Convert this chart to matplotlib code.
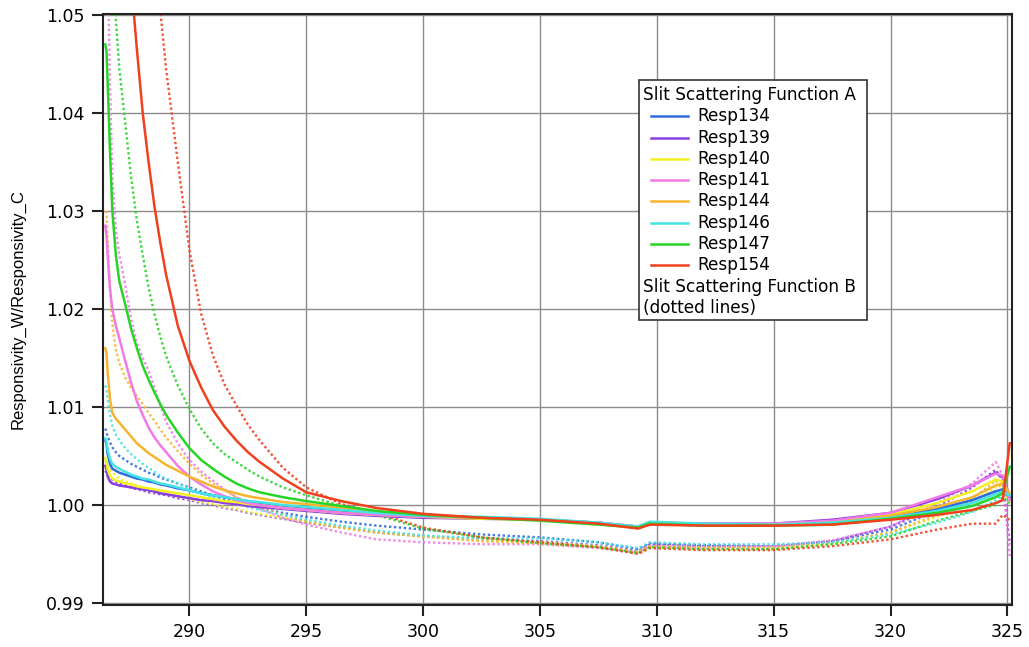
#! /usr/bin/python3

import matplotlib
matplotlib.use('Agg')
import matplotlib.pyplot as plt
from matplotlib.lines import Line2D
from matplotlib.patches import Rectangle

# wavelength grid (nm) shared by every response ratio curve, denser at the short end
wavelength = [286.4, 286.45, 286.5, 286.6, 286.7, 286.85, 287.0, 287.25, 287.5, 287.75,
              288.0, 288.25, 288.5, 288.75, 289.0, 289.5, 290.0, 290.5, 291.0, 291.5,
              292.0, 292.5, 293.0, 294.0, 295.0,
              296.5, 298.0, 300.0, 302.5, 305.0, 307.5, 309.2, 309.7, 312.0, 315.0,
              317.5, 320.0, 322.0, 323.5, 324.5, 324.8, 325.1]

names = ['Resp134', 'Resp139', 'Resp140', 'Resp141', 'Resp144', 'Resp146', 'Resp147', 'Resp154']
colors = ['#2f6be0', '#8a3fe0', '#f2f020', '#f27ae6', '#f5b52e', '#45e3e3', '#28d428', '#f0401e']

# slit scattering function A (solid)
resp134_a = [1.0066, 1.0062, 1.0052, 1.0042, 1.0037, 1.0035, 1.0033, 1.0031, 1.0029, 1.0027,
             1.0026, 1.0024, 1.0023, 1.0021, 1.0020, 1.0017, 1.0015, 1.0012, 1.0010, 1.0008,
             1.0006, 1.0004, 1.0002, 0.9999, 0.9997,
             0.9994, 0.9991, 0.9988, 0.9987, 0.9985, 0.9982, 0.9977, 0.9982, 0.9980, 0.9980,
             0.9982, 0.9988, 0.9996, 1.0005, 1.0014, 1.0016, 1.0008]
resp139_a = [1.0040, 1.0036, 1.0029, 1.0024, 1.0022, 1.0021, 1.0020, 1.0019, 1.0018, 1.0017,
             1.0016, 1.0015, 1.0014, 1.0012, 1.0011, 1.0009, 1.0007, 1.0005, 1.0004, 1.0002,
             1.0001, 0.9999, 0.9998, 0.9996, 0.9994,
             0.9991, 0.9989, 0.9987, 0.9986, 0.9985, 0.9982, 0.9978, 0.9982, 0.9981, 0.9981,
             0.9985, 0.9992, 1.0006, 1.0020, 1.0033, 1.0028, 1.0010]
resp140_a = [1.0048, 1.0044, 1.0036, 1.0030, 1.0027, 1.0025, 1.0024, 1.0022, 1.0021, 1.0019,
             1.0018, 1.0017, 1.0016, 1.0015, 1.0014, 1.0012, 1.0010, 1.0008, 1.0006, 1.0004,
             1.0003, 1.0001, 1.0000, 0.9997, 0.9995,
             0.9992, 0.9990, 0.9988, 0.9986, 0.9985, 0.9982, 0.9977, 0.9982, 0.9980, 0.9980,
             0.9983, 0.9990, 1.0002, 1.0014, 1.0026, 1.0024, 1.0010]
resp141_a = [1.0285, 1.0275, 1.0255, 1.0220, 1.0200, 1.0183, 1.0170, 1.0147, 1.0125, 1.0106,
             1.0092, 1.0079, 1.0069, 1.0061, 1.0054, 1.0040, 1.0029, 1.0021, 1.0014, 1.0009,
             1.0005, 1.0002, 1.0000, 0.9997, 0.9995,
             0.9992, 0.9990, 0.9988, 0.9987, 0.9985, 0.9982, 0.9978, 0.9982, 0.9981, 0.9981,
             0.9984, 0.9992, 1.0008, 1.0020, 1.0032, 1.0030, 1.0005]
resp144_a = [1.0160, 1.0155, 1.0135, 1.0108, 1.0094, 1.0088, 1.0084, 1.0077, 1.0070, 1.0063,
             1.0058, 1.0053, 1.0049, 1.0045, 1.0041, 1.0035, 1.0029, 1.0024, 1.0019, 1.0015,
             1.0012, 1.0009, 1.0007, 1.0003, 1.0001,
             0.9997, 0.9993, 0.9989, 0.9987, 0.9985, 0.9981, 0.9977, 0.9981, 0.9980, 0.9980,
             0.9982, 0.9989, 0.9998, 1.0008, 1.0020, 1.0022, 1.0012]
resp146_a = [1.0068, 1.0064, 1.0056, 1.0047, 1.0042, 1.0039, 1.0037, 1.0034, 1.0031, 1.0029,
             1.0027, 1.0026, 1.0024, 1.0022, 1.0021, 1.0018, 1.0015, 1.0012, 1.0010, 1.0008,
             1.0006, 1.0004, 1.0003, 1.0000, 0.9998,
             0.9995, 0.9992, 0.9989, 0.9988, 0.9986, 0.9982, 0.9978, 0.9983, 0.9981, 0.9980,
             0.9982, 0.9987, 0.9994, 1.0002, 1.0011, 1.0014, 1.0010]
resp147_a = [1.0470, 1.0463, 1.0430, 1.0360, 1.0300, 1.0255, 1.0228, 1.0205, 1.0180, 1.0160,
             1.0142, 1.0128, 1.0115, 1.0103, 1.0092, 1.0074, 1.0058, 1.0046, 1.0037, 1.0029,
             1.0022, 1.0017, 1.0013, 1.0008, 1.0004,
             0.9999, 0.9994, 0.9990, 0.9987, 0.9984, 0.9980, 0.9977, 0.9981, 0.9979, 0.9979,
             0.9980, 0.9986, 0.9992, 0.9999, 1.0008, 1.0012, 1.0039]
resp154_a = [1.1200, 1.1150, 1.1100, 1.1010, 1.0920, 1.0810, 1.0710, 1.0600, 1.0535, 1.0465,
             1.0400, 1.0350, 1.0305, 1.0268, 1.0235, 1.0183, 1.0147, 1.0120, 1.0097, 1.0080,
             1.0066, 1.0054, 1.0044, 1.0027, 1.0013,
             1.0004, 0.9997, 0.9991, 0.9987, 0.9985, 0.9981, 0.9976, 0.9980, 0.9979, 0.9979,
             0.9980, 0.9985, 0.9990, 0.9995, 1.0002, 1.0005, 1.0063]

# slit scattering function B (dotted)
resp134_b = [1.0078, 1.0074, 1.0070, 1.0064, 1.0059, 1.0054, 1.0050, 1.0046, 1.0042, 1.0039,
             1.0036, 1.0033, 1.0031, 1.0028, 1.0026, 1.0022, 1.0018, 1.0014, 1.0010, 1.0006,
             1.0003, 1.0000, 0.9997, 0.9992, 0.9988,
             0.9983, 0.9979, 0.9975, 0.9970, 0.9967, 0.9962, 0.9955, 0.9961, 0.9959, 0.9958,
             0.9963, 0.9975, 0.9994, 1.0005, 1.0014, 1.0013, 1.0008]
resp139_b = [1.0035, 1.0033, 1.0031, 1.0028, 1.0026, 1.0024, 1.0022, 1.0020, 1.0018, 1.0016,
             1.0015, 1.0013, 1.0012, 1.0011, 1.0010, 1.0007, 1.0005, 1.0002, 1.0000, 0.9997,
             0.9995, 0.9992, 0.9990, 0.9986, 0.9982,
             0.9977, 0.9972, 0.9968, 0.9965, 0.9963, 0.9959, 0.9953, 0.9960, 0.9958, 0.9958,
             0.9963, 0.9978, 0.9998, 1.0018, 1.0036, 1.0025, 0.9960]
resp140_b = [1.0045, 1.0043, 1.0040, 1.0036, 1.0033, 1.0030, 1.0027, 1.0024, 1.0022, 1.0020,
             1.0018, 1.0016, 1.0015, 1.0013, 1.0012, 1.0009, 1.0006, 1.0003, 1.0001, 0.9998,
             0.9996, 0.9993, 0.9991, 0.9987, 0.9983,
             0.9977, 0.9972, 0.9968, 0.9964, 0.9962, 0.9958, 0.9952, 0.9958, 0.9957, 0.9957,
             0.9961, 0.9972, 0.9988, 1.0003, 1.0018, 1.0020, 1.0000]
resp141_b = [1.0700, 1.0620, 1.0550, 1.0430, 1.0335, 1.0280, 1.0255, 1.0225, 1.0190, 1.0165,
             1.0150, 1.0137, 1.0120, 1.0102, 1.0085, 1.0063, 1.0046, 1.0034, 1.0025, 1.0016,
             1.0008, 1.0002, 0.9996, 0.9987, 0.9980,
             0.9972, 0.9965, 0.9962, 0.9960, 0.9960, 0.9956, 0.9952, 0.9958, 0.9957, 0.9958,
             0.9964, 0.9978, 1.0002, 1.0022, 1.0044, 1.0030, 0.9948]
resp144_b = [1.0300, 1.0298, 1.0270, 1.0220, 1.0185, 1.0158, 1.0145, 1.0130, 1.0120, 1.0111,
             1.0103, 1.0094, 1.0086, 1.0077, 1.0069, 1.0055, 1.0042, 1.0031, 1.0022, 1.0015,
             1.0008, 1.0003, 0.9998, 0.9990, 0.9983,
             0.9977, 0.9972, 0.9968, 0.9963, 0.9961, 0.9957, 0.9952, 0.9958, 0.9956, 0.9956,
             0.9961, 0.9972, 0.9990, 1.0006, 1.0025, 1.0015, 1.0005]
resp146_b = [1.0122, 1.0117, 1.0108, 1.0092, 1.0081, 1.0072, 1.0066, 1.0058, 1.0052, 1.0047,
             1.0042, 1.0038, 1.0034, 1.0030, 1.0027, 1.0022, 1.0017, 1.0012, 1.0008, 1.0004,
             1.0001, 0.9998, 0.9995, 0.9990, 0.9985,
             0.9979, 0.9974, 0.9969, 0.9966, 0.9966, 0.9962, 0.9956, 0.9962, 0.9960, 0.9960,
             0.9962, 0.9970, 0.9982, 0.9993, 1.0005, 1.0010, 1.0008]
resp147_b = [1.0850, 1.0800, 1.0750, 1.0660, 1.0580, 1.0495, 1.0445, 1.0390, 1.0335, 1.0290,
             1.0255, 1.0222, 1.0195, 1.0172, 1.0152, 1.0122, 1.0098, 1.0078, 1.0063, 1.0052,
             1.0044, 1.0036, 1.0029, 1.0018, 1.0010,
             0.9999, 0.9990, 0.9976, 0.9967, 0.9961, 0.9957, 0.9951, 0.9957, 0.9955, 0.9955,
             0.9960, 0.9968, 0.9984, 0.9994, 1.0000, 1.0008, 1.0002]
resp154_b = [1.1850, 1.1800, 1.1750, 1.1660, 1.1570, 1.1450, 1.1330, 1.1150, 1.0990, 1.0850,
             1.0730, 1.0635, 1.0555, 1.0505, 1.0445, 1.0350, 1.0260, 1.0195, 1.0153, 1.0123,
             1.0102, 1.0082, 1.0066, 1.0038, 1.0018,
             1.0001, 0.9992, 0.9977, 0.9967, 0.9962, 0.9957, 0.9950, 0.9956, 0.9954, 0.9954,
             0.9958, 0.9965, 0.9975, 0.9981, 0.9981, 0.9990, 0.9985]

solid_sets = [resp134_a, resp139_a, resp140_a, resp141_a, resp144_a, resp146_a, resp147_a, resp154_a]
dotted_sets = [resp134_b, resp139_b, resp140_b, resp141_b, resp144_b, resp146_b, resp147_b, resp154_b]

x_ticks = [290, 295, 300, 305, 310, 315, 320, 325]
y_ticks = [0.99, 1.00, 1.01, 1.02, 1.03, 1.04, 1.05]


def plot_ratios(output_file='out.png'):
    fig = plt.figure(figsize=(10.29, 6.47), dpi=100)
    ax = fig.add_axes([0.1001, 0.0649, 0.8834, 0.9135])

    for vals, c in zip(dotted_sets, colors):
        ax.plot(wavelength, vals, color=c, lw=1.7, linestyle=(0, (1, 1.1)), alpha=0.9)
    for vals, c in zip(solid_sets, colors):
        ax.plot(wavelength, vals, color=c, lw=1.8)

    ax.set_xlim(286.3, 325.2)
    ax.set_ylim(0.9898, 1.0501)
    ax.set_xticks(x_ticks)
    ax.set_yticks(y_ticks)
    ax.set_yticklabels([f'{v:.2f}' for v in y_ticks])
    ax.tick_params(direction='out', length=8, width=1.5, labelsize=12.5, color='#222222', pad=5)
    ax.grid(True, color='#8c8c8c', lw=1.0)
    ax.set_axisbelow(True)
    for s in ax.spines.values():
        s.set_linewidth(1.5)
        s.set_color('#222222')

    fig.text(0.0175, 0.523, 'Responsivity_W/Responsivity_C', rotation=90,
             ha='center', va='center', fontsize=12, family='Liberation Sans')

    # legend panel, drawn by hand so the two headings sit flush left
    bx0, bx1 = 0.5897, 0.8405
    by0, by1 = 0.482, 0.888
    ax.add_patch(Rectangle((bx0, by0), bx1 - bx0, by1 - by0, transform=ax.transAxes,
                           facecolor='white', edgecolor='#333333', lw=1.2, zorder=5))
    row_h = 21.3 / 591
    top = (605 - 95) / 591
    tx = (643 - 103) / 909
    lx0, lx1 = (651 - 103) / 909, (688 - 103) / 909
    ltx = (697 - 103) / 909
    fs = 12.2
    ax.text(tx, top, 'Slit Scattering Function A', transform=ax.transAxes,
            va='center', ha='left', fontsize=fs, zorder=6)
    for i, (n, c) in enumerate(zip(names, colors)):
        y = top - (i + 1) * row_h
        ax.add_line(Line2D([lx0, lx1], [y, y], transform=ax.transAxes, color=c, lw=1.8, zorder=6))
        ax.text(ltx, y, n, transform=ax.transAxes, va='center', ha='left', fontsize=fs, zorder=6)
    ax.text(tx, top - 9 * row_h, 'Slit Scattering Function B', transform=ax.transAxes,
            va='center', ha='left', fontsize=fs, zorder=6)
    ax.text(tx, top - 10 * row_h, '(dotted lines)', transform=ax.transAxes,
            va='center', ha='left', fontsize=fs, zorder=6)

    fig.savefig(output_file, dpi=100)


if __name__ == '__main__':
    plot_ratios()
